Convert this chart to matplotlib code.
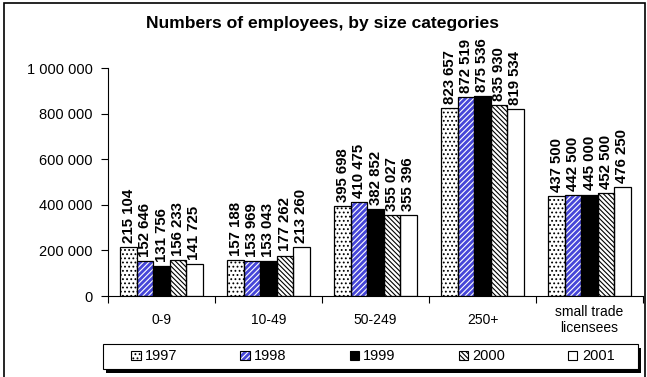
import matplotlib
matplotlib.use("Agg")
import matplotlib.pyplot as plt
from matplotlib.patches import Patch, Rectangle
import numpy as np

plt.rcParams['font.family'] = ['Liberation Sans', 'DejaVu Sans']
plt.rcParams['hatch.linewidth'] = 0.8

categories = ['0-9', '10-49', '50-249', '250+', 'small trade\nlicensees']
years = ['1997', '1998', '1999', '2000', '2001']

v1997 = [215104, 157188, 395698, 823657, 437500]
v1998 = [152646, 153969, 410475, 872519, 442500]
v1999 = [131756, 153043, 382852, 875536, 445000]
v2000 = [156233, 177262, 355027, 835930, 452500]
v2001 = [141725, 213260, 355396, 819534, 476250]
series = [v1997, v1998, v1999, v2000, v2001]

yticks = [0, 200000, 400000, 600000, 800000, 1000000]

# fill colour, hatch colour, hatch pattern per year
styles = [
    ('white', 'black', '....'),
    ('#4646d8', 'white', '//////'),
    ('black', 'black', None),
    ('white', 'black', '\\\\\\\\\\\\\\'),
    ('white', 'black', None),
]


def spaced(v):
    return f"{v:,}".replace(',', ' ')


fig = plt.figure(figsize=(6.47, 3.77), dpi=100)
ax = fig.add_axes([108 / 647, 81 / 377, 535 / 647, 228 / 377])

n = len(series)
width = 1 / 6.5
centers = np.arange(len(categories)) + 0.5

handles = []
for j, vals in enumerate(series):
    fc, hc, hatch = styles[j]
    xs = centers + (j - (n - 1) / 2) * width
    ax.bar(xs, vals, width, color=fc, edgecolor=hc, hatch=hatch, linewidth=0, zorder=2)
    ax.bar(xs, vals, width, fill=False, edgecolor='black', linewidth=0.9, zorder=3)
    for x, v in zip(xs, vals):
        ax.annotate(spaced(v), (x, v), xytext=(0, 3), textcoords='offset points',
                    rotation=90, ha='center', va='bottom', fontsize=10.8,
                    fontweight='bold', annotation_clip=False)
    handles.append((Patch(facecolor=fc, edgecolor=hc, hatch=hatch, linewidth=0),
                    Patch(fill=False, edgecolor='black', linewidth=0.8)))

ax.set_xlim(0, len(categories))
ax.set_ylim(0, 1000000)
ax.set_yticks(yticks)
ax.set_yticklabels([spaced(t) for t in yticks], fontsize=10.5)
ax.set_xticks(np.arange(len(categories) + 1))
ax.set_xticklabels([])
ax.set_xticks(centers, minor=True)
ax.set_xticklabels(categories, minor=True, fontsize=10, va='center')
ax.tick_params(axis='x', which='minor', length=0, pad=17)
ax.tick_params(axis='both', which='major', length=5, width=0.8, direction='out')
ax.tick_params(axis='y', pad=6)
for s in ['top', 'right']:
    ax.spines[s].set_visible(False)
for s in ['left', 'bottom']:
    ax.spines[s].set_linewidth(0.8)

fig.text(0.498, 0.938, 'Numbers of employees, by size categories', ha='center',
         va='center', fontsize=12.6, fontweight='bold')

# legend box with drop shadow
fig.patches.append(Rectangle((106 / 647, 4 / 377), 535 / 647, 25 / 377,
                             transform=fig.transFigure, facecolor='black',
                             edgecolor='none', zorder=1))
fig.patches.append(Rectangle((103 / 647, 8 / 377), 535 / 647, 25 / 377,
                             transform=fig.transFigure, facecolor='white',
                             edgecolor='black', linewidth=0.8, zorder=2))
fig.legend(handles, years, loc='center', bbox_to_anchor=(373 / 647, 20.5 / 377),
           ncol=5, frameon=False, fontsize=10.5, handlelength=0.65, handleheight=0.65,
           handletextpad=0.3, columnspacing=4.3)

# outer border
fig.patches.append(Rectangle((4 / 647, -0.05), 641 / 647, 374 / 377 + 0.05,
                             transform=fig.transFigure, fill=False,
                             edgecolor='black', linewidth=1.2, zorder=0))

fig.savefig('out.png', dpi=100)
